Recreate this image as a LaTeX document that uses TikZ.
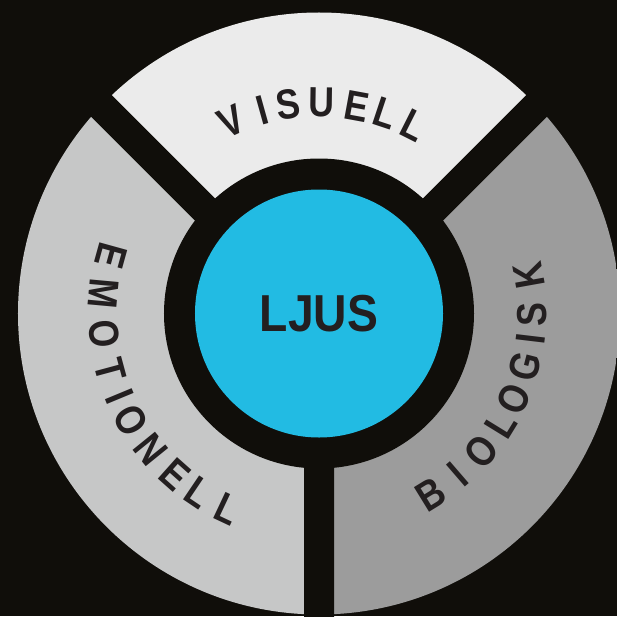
\documentclass[tikz,border=0pt]{standalone}
\usepackage{fontspec}
\setmainfont{Liberation Sans}
\newfontfamily\ringfont{Liberation Sans}[FakeStretch=0.85]
\newfontfamily\hubfont{Liberation Sans}[FakeStretch=0.89]

\definecolor{bgdark}{HTML}{100E0A}
\definecolor{segtop}{HTML}{EBEBEB}
\definecolor{segleft}{HTML}{C6C7C7}
\definecolor{segright}{HTML}{9C9C9C}
\definecolor{hubblue}{HTML}{22BBE3}
\definecolor{ink}{HTML}{231F20}

\tikzset{
  letter/.style={inner sep=0pt, text=ink, font=\ringfont\bfseries\fontsize{42}{42}\selectfont},
  hub/.style={circle, fill=hubblue, inner sep=0pt, minimum size=248, text=ink,
    font=\hubfont\bfseries\fontsize{52}{52}\selectfont},
}

\begin{document}
\begin{tikzpicture}[x=1pt,y=1pt]
    \fill[bgdark] (-319,-302.5) rectangle (298,313.5);
    \useasboundingbox (-319,-302.5) rectangle (298,313.5);

    % Sektorer
    \begin{scope}
        \clip (0,0) circle (301);
        \begin{scope}[shift={(0,-10)}]
            \fill[segtop] (0,0) -- (45:700) -- (90:700) -- (135:700) -- cycle;
            \fill[segright] (0,0) -- (-90:700) -- (0:700) -- (45:700) -- cycle;
            \fill[segleft] (0,0) -- (135:700) -- (180:700) -- (270:700) -- cycle;
        \end{scope}
    \end{scope}

    % Mellanrum
    \coordinate (mitt) at (0,-10);
    \draw[bgdark, line width=30] (mitt) -- ++(45:400) (mitt) -- ++(135:400) (mitt) -- ++(270:400);
    \fill[bgdark] (0,0) circle (155);

    \node[hub] (ljus) at (0,0) {LJUS};

    % Texter
    \foreach \ch/\ang [count=\i] in {V/114.7, I/105.6, S/98.4, U/89.2, E/79.6, L/71.6, L/63.3}
        \node[letter, rotate=\ang-90] (vis\i) at (\ang:211) {\ch};
    \foreach \ch/\ang [count=\i] in {E/164.5, M/174.8, O/185.5, T/195.1, I/202.5, O/209.6, N/219.0, E/228.3, L/236.0, L/244.8}
        \node[letter, rotate=\ang+90] (emo\i) at (\ang:216) {\ch};
    \foreach \ch/\ang [count=\i] in {B/-58.4, I/-49.2, O/-40.3, L/-31.6, O/-23.8, G/-14.4, I/-6.8, S/-0.2, K/10.2}
        \node[letter, rotate=\ang+90] (bio\i) at (\ang:213) {\ch};
\end{tikzpicture}
\end{document}
